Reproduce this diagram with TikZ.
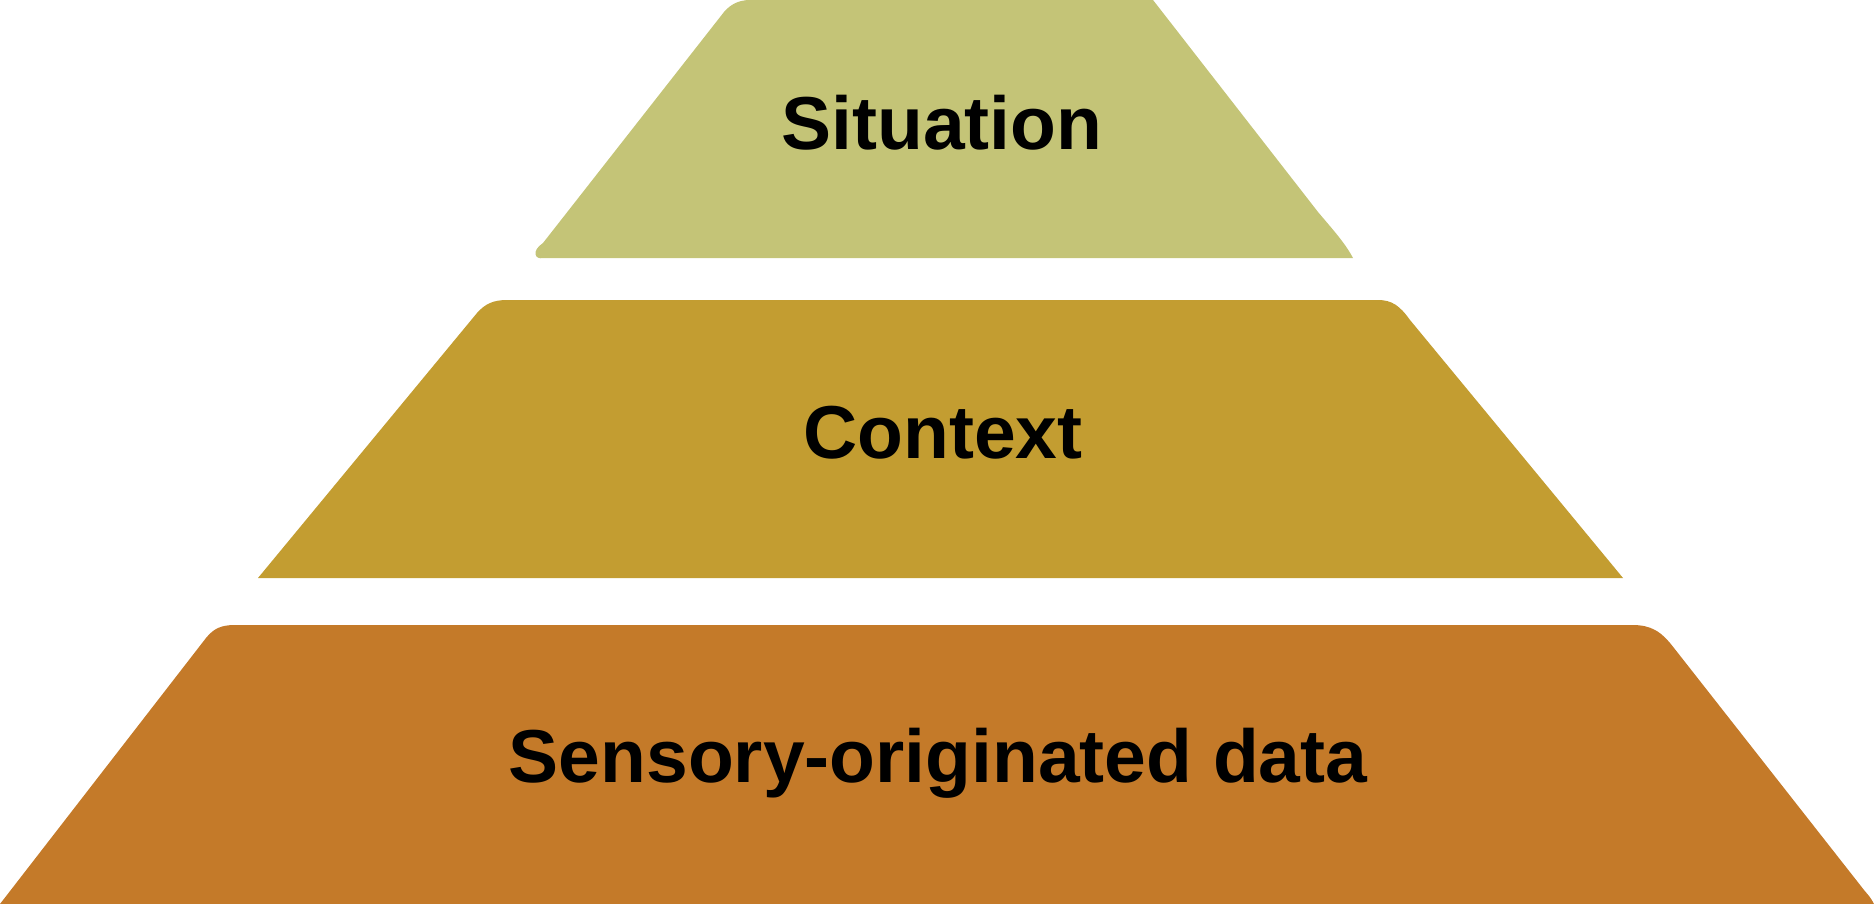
\documentclass[tikz,border=0pt]{standalone}
\usepackage{fontspec}
\setmainfont{Liberation Sans}
\usepackage{xcolor}
\usetikzlibrary{positioning}
\definecolor{situationbg}{HTML}{C4C477}
\definecolor{contextbg}{HTML}{C39D31}
\definecolor{sensorybg}{HTML}{C47A29}

\begin{document}
\begin{tikzpicture}[x=0.5pt,
        y=-0.5pt,
        layer/.style={
        anchor=base,
        text=black,
        inner sep=0pt,
        font=\fontsize{37.5}{40}\selectfont\bfseries}]

        \useasboundingbox (0,0) rectangle (1874,904);

        \fill[situationbg] (543,258) -- (1353,258) .. controls (1345,243) and (1334,231) .. (1318,212) -- (1153,0) -- (750,0) .. controls (738,0) and (730,5) .. (724,12) -- (543,243) .. controls (531,251) and (535,260) .. (543,258) -- cycle; % top layer
        \fill[contextbg] (258,578) -- (1623,578) -- (1410,320) .. controls (1400,306) and (1392,300) .. (1378,300) -- (507,300) .. controls (493,300) and (485,304) .. (477,313) -- cycle; % middle layer
        \fill[sensorybg] (0,904) -- (1874,904) .. controls (1871,898) and (1869,896) .. (1864,890) -- (1674,648) .. controls (1661,631) and (1651,625) .. (1632,625) -- (235,625) .. controls (222,625) and (214,628) .. (206,638) -- cycle; % bottom layer

        \node[layer] (situation) at (942,149) {Situation};
        \node[layer] (context) at (943,458) {Context};
        \node[layer] (sensory) at (938,782) {Sensory-originated data};
	\end{tikzpicture}
\end{document}
